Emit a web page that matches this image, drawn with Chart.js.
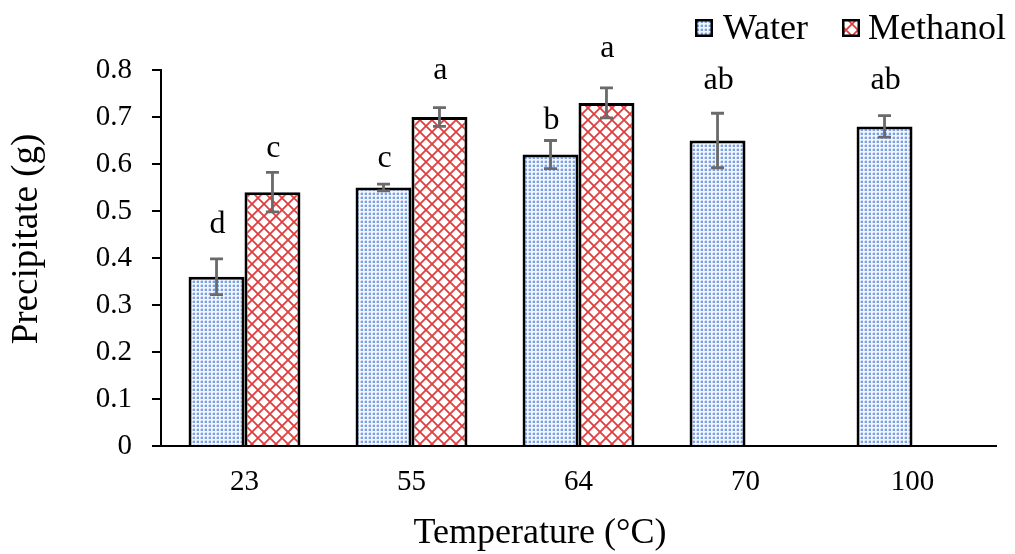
<!DOCTYPE html>
<html>
<head>
<meta charset="utf-8">
<script src="https://cdn.jsdelivr.net/npm/chart.js@4/dist/chart.umd.min.js"></script>
<style>
html,body{margin:0;padding:0;background:#fff;}
#wrap{width:1015px;height:554px;position:relative;}
</style>
</head>
<body>
<div id="wrap"><canvas id="c" width="1015" height="554"></canvas></div>
<script>
// ---- data ----
const categories = ['23', '55', '64', '70', '100'];
const waterValues = [0.36, 0.55, 0.62, 0.65, 0.68];
const waterErrors = [0.038, 0.007, 0.03, 0.058, 0.023];
const methanolValues = [0.54, 0.70, 0.73, null, null];
const methanolErrors = [0.042, 0.02, 0.032, null, null];
const waterLetters = ['d', 'c', 'b', 'ab', 'ab'];
const methanolLetters = ['c', 'a', 'a', null, null];
const waterLetterLevel = [0.453, 0.593, 0.674, 0.759, 0.759];
const methanolLetterLevel = [0.614, 0.781, 0.828, null, null];
const yTickLabels = ['0', '0.1', '0.2', '0.3', '0.4', '0.5', '0.6', '0.7', '0.8'];
const seriesNames = ['Water', 'Methanol'];
const xTitle = 'Temperature (\u00B0C)';
const yTitle = 'Precipitate (g)';

const FONT = '"Liberation Serif", "Times New Roman", serif';
const canvas = document.getElementById('c');
const mainCtx = canvas.getContext('2d');

function makeDots() {
  const t = document.createElement('canvas');
  t.width = 4; t.height = 4;
  const g = t.getContext('2d');
  g.fillStyle = '#f3f6fd'; g.fillRect(0, 0, 4, 4);
  g.fillStyle = '#7a9fe4'; g.fillRect(1, 1, 2, 2);
  g.fillStyle = '#c8d7f3'; g.fillRect(0, 1, 1, 2); g.fillRect(1, 0, 2, 1);
  return mainCtx.createPattern(t, 'repeat');
}
function makeLattice() {
  const s = 12;
  const t = document.createElement('canvas');
  t.width = s; t.height = s;
  const g = t.getContext('2d');
  g.fillStyle = '#ffffff'; g.fillRect(0, 0, s, s);
  g.strokeStyle = '#e03e3e'; g.lineWidth = 1.8;
  g.beginPath();
  g.moveTo(-2, -2); g.lineTo(s + 2, s + 2);
  g.moveTo(s + 2, -2); g.lineTo(-2, s + 2);
  g.stroke();
  return mainCtx.createPattern(t, 'repeat');
}
const dotPattern = makeDots();
const latticePattern = makeLattice();

const errorPlugin = {
  id: 'extras',
  afterDatasetsDraw(chart) {
    const ctx = chart.ctx;
    const y = chart.scales.y;
    const errs = [waterErrors, methanolErrors];
    const vals = [waterValues, methanolValues];
    const letters = [waterLetters, methanolLetters];
    const levels = [waterLetterLevel, methanolLetterLevel];
    ctx.save();
    for (let d = 0; d < 2; d++) {
      const meta = chart.getDatasetMeta(d);
      meta.data.forEach((bar, i) => {
        const v = vals[d][i];
        if (v === null || v === undefined) return;
        const e = errs[d][i];
        const x = bar.x;
        const yTop = y.getPixelForValue(v + e);
        const yBot = y.getPixelForValue(v - e);
        ctx.strokeStyle = '#6a6a6a';
        ctx.lineWidth = 2.8;
        ctx.beginPath();
        ctx.moveTo(x, yTop); ctx.lineTo(x, yBot);
        ctx.moveTo(x - 6.5, yTop); ctx.lineTo(x + 6.5, yTop);
        ctx.moveTo(x - 6.5, yBot); ctx.lineTo(x + 6.5, yBot);
        ctx.stroke();
        const L = letters[d][i];
        if (L) {
          ctx.fillStyle = '#000';
          ctx.font = '32px ' + FONT;
          ctx.textAlign = 'center';
          ctx.textBaseline = 'alphabetic';
          ctx.fillText(L, x + 1, y.getPixelForValue(levels[d][i]));
        }
      });
    }
    ctx.restore();
  },
  afterDraw(chart) {
    const ctx = chart.ctx;
    ctx.save();
    ctx.fillStyle = '#000';
    // x title
    ctx.font = '36px ' + FONT;
    ctx.textAlign = 'center';
    ctx.textBaseline = 'alphabetic';
    ctx.fillText(xTitle, 540, 543);
    // y title
    ctx.save();
    ctx.translate(37, 239);
    ctx.rotate(-Math.PI / 2);
    ctx.font = '37px ' + FONT;
    ctx.fillText(yTitle, 0, 0);
    ctx.restore();
    // legend
    const items = [
      {x: 695, tx: 723, fill: dotPattern, name: seriesNames[0]},
      {x: 842, tx: 868, fill: latticePattern, name: seriesNames[1]}
    ];
    ctx.font = '36px ' + FONT;
    ctx.textAlign = 'left';
    items.forEach(it => {
      ctx.fillStyle = it.fill;
      ctx.fillRect(it.x, 19, 18, 18);
      ctx.strokeStyle = '#000';
      ctx.lineWidth = 2.5;
      ctx.strokeRect(it.x + 1.25, 20.25, 15.5, 15.5);
      ctx.fillStyle = '#000';
      ctx.fillText(it.name, it.tx, 39);
    });
    ctx.restore();
  }
};

new Chart(canvas, {
  type: 'bar',
  data: {
    labels: categories,
    datasets: [
      {label: seriesNames[0], data: waterValues, backgroundColor: dotPattern, borderColor: '#000', borderWidth: 3, borderSkipped: 'bottom'},
      {label: seriesNames[1], data: methanolValues, backgroundColor: latticePattern, borderColor: '#000', borderWidth: 3, borderSkipped: 'bottom'}
    ]
  },
  options: {
    responsive: false,
    animation: false,
    devicePixelRatio: 1,
    layout: {padding: {top: 70, right: 19, bottom: 0, left: 0}},
    plugins: {legend: {display: false}, tooltip: {enabled: false}},
    datasets: {bar: {categoryPercentage: 0.67, barPercentage: 1.0}},
    scales: {
      x: {
        grid: {display: false, drawTicks: false},
        border: {display: true, color: '#000', width: 2},
        ticks: {color: '#000', font: {family: FONT, size: 29}, padding: 19, maxRotation: 0},
        afterFit(s) { s.height = 108; }
      },
      y: {
        min: 0, max: 0.8,
        grid: {drawOnChartArea: false, drawTicks: true, tickLength: 9, color: '#000', lineWidth: 2},
        border: {display: true, color: '#000', width: 2},
        ticks: {
          stepSize: 0.1, color: '#000', padding: 20,
          font: {family: FONT, size: 29},
          callback: (v, i) => yTickLabels[i]
        },
        afterFit(s) { s.width = 161; }
      }
    }
  },
  plugins: [errorPlugin]
});
</script>
</body>
</html>
